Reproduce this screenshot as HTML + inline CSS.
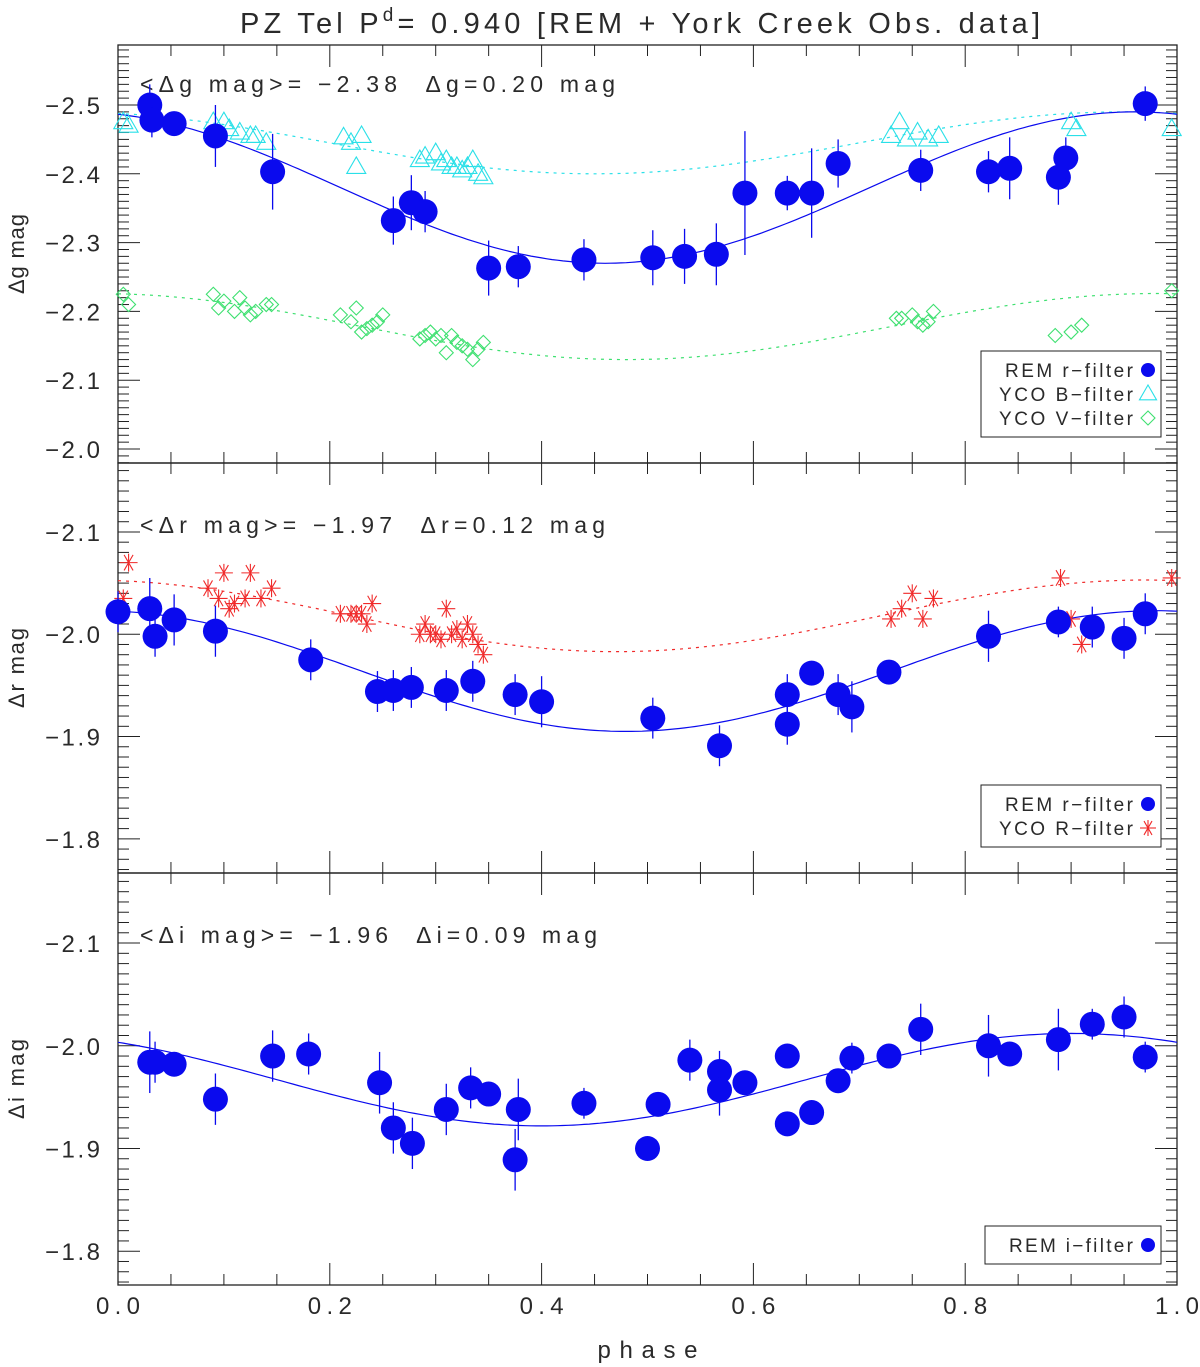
<!DOCTYPE html>
<html><head><meta charset="utf-8"><style>
body{margin:0;background:#fff}
svg{display:block}
text{font-family:"Liberation Sans",sans-serif;fill:#2a2a2a;white-space:pre}
</style></head><body>
<svg id="c" width="1200" height="1367" viewBox="0 0 1200 1367" xmlns="http://www.w3.org/2000/svg">
<text x="240" y="33" font-size="29" textLength="800" lengthAdjust="spacing">PZ Tel P<tspan dy="-12" font-size="19">d</tspan><tspan dy="12">= 0.940 [REM + York Creek Obs. data]</tspan></text>
<g id="plot"></g>
</svg>
<script>
// ---- data: panel 1 (g) ----
const gPhase=[0.03,0.032,0.053,0.092,0.146,0.26,0.277,0.29,0.35,0.378,0.44,0.505,0.535,0.565,0.592,0.632,0.655,0.68,0.758,0.822,0.842,0.888,0.895,0.97];
const gMag=[-2.50,-2.478,-2.473,-2.455,-2.403,-2.332,-2.358,-2.345,-2.263,-2.265,-2.275,-2.278,-2.280,-2.283,-2.372,-2.372,-2.372,-2.415,-2.405,-2.403,-2.408,-2.395,-2.423,-2.502];
const gErr=[0.03,0.025,0.015,0.045,0.055,0.035,0.04,0.03,0.04,0.03,0.03,0.04,0.04,0.045,0.09,0.025,0.065,0.035,0.03,0.03,0.045,0.04,0.03,0.025];
const bPhase=[0.005,0.01,0.09,0.1,0.105,0.115,0.125,0.13,0.14,0.213,0.22,0.225,0.23,0.285,0.29,0.3,0.305,0.31,0.315,0.32,0.325,0.33,0.335,0.34,0.345,0.73,0.738,0.745,0.755,0.765,0.775,0.9,0.905,0.995];
const bMag=[-2.475,-2.47,-2.475,-2.475,-2.465,-2.46,-2.455,-2.455,-2.445,-2.453,-2.445,-2.41,-2.455,-2.42,-2.425,-2.43,-2.415,-2.42,-2.41,-2.41,-2.405,-2.41,-2.42,-2.40,-2.395,-2.455,-2.475,-2.45,-2.46,-2.45,-2.455,-2.475,-2.465,-2.465];
const vPhase=[0.005,0.01,0.09,0.095,0.1,0.11,0.115,0.12,0.125,0.13,0.14,0.145,0.21,0.22,0.225,0.23,0.235,0.24,0.245,0.25,0.285,0.29,0.295,0.3,0.305,0.31,0.315,0.32,0.325,0.33,0.335,0.34,0.345,0.735,0.74,0.75,0.755,0.76,0.765,0.77,0.885,0.9,0.91,0.995];
const vMag=[-2.225,-2.21,-2.225,-2.205,-2.215,-2.2,-2.22,-2.205,-2.195,-2.2,-2.21,-2.21,-2.195,-2.185,-2.205,-2.17,-2.175,-2.18,-2.185,-2.195,-2.16,-2.165,-2.17,-2.16,-2.165,-2.14,-2.165,-2.155,-2.15,-2.145,-2.13,-2.145,-2.155,-2.19,-2.19,-2.195,-2.185,-2.18,-2.185,-2.2,-2.165,-2.17,-2.18,-2.23];
// fit params [mean, semi-amplitude, phase of brightest]
const gFit=[-2.38,0.11,0.96], bFit=[-2.445,0.045,0.95], vFit=[-2.178,0.048,0.98];
// ---- panel 2 (r) ----
const rPhase=[0,0.03,0.035,0.053,0.092,0.182,0.245,0.26,0.277,0.31,0.335,0.375,0.4,0.505,0.568,0.632,0.632,0.655,0.68,0.693,0.728,0.822,0.888,0.92,0.95,0.97];
const rMag=[-2.022,-2.025,-1.998,-2.014,-2.003,-1.975,-1.944,-1.945,-1.948,-1.945,-1.954,-1.941,-1.934,-1.918,-1.891,-1.941,-1.912,-1.962,-1.941,-1.929,-1.963,-1.998,-2.012,-2.007,-1.996,-2.02];
const rErr=[0.02,0.03,0.02,0.025,0.025,0.02,0.02,0.02,0.02,0.02,0.02,0.02,0.025,0.02,0.02,0.02,0.02,0.01,0.02,0.025,0.01,0.025,0.015,0.02,0.02,0.02];
const RPhase=[0.005,0.01,0.085,0.095,0.1,0.105,0.11,0.12,0.125,0.135,0.145,0.21,0.22,0.225,0.23,0.235,0.24,0.285,0.29,0.295,0.3,0.305,0.31,0.315,0.32,0.325,0.33,0.335,0.34,0.345,0.73,0.74,0.75,0.76,0.77,0.89,0.9,0.91,0.995];
const RMag=[-2.035,-2.07,-2.045,-2.035,-2.06,-2.025,-2.03,-2.035,-2.06,-2.035,-2.045,-2.02,-2.02,-2.02,-2.02,-2.01,-2.03,-2.0,-2.01,-2.0,-2.0,-1.995,-2.025,-2.0,-2.005,-1.995,-2.01,-2.0,-1.99,-1.98,-2.015,-2.025,-2.04,-2.015,-2.035,-2.055,-2.015,-1.99,-2.055];
const rFit=[-1.964,0.059,0.98], RFit=[-2.018,0.035,0.97];
// ---- panel 3 (i) ----
const iPhase=[0.03,0.035,0.053,0.092,0.146,0.18,0.247,0.26,0.278,0.31,0.333,0.35,0.378,0.375,0.44,0.5,0.51,0.54,0.568,0.568,0.592,0.632,0.632,0.655,0.68,0.693,0.728,0.758,0.822,0.842,0.888,0.92,0.95,0.97];
const iMag=[-1.984,-1.984,-1.982,-1.948,-1.99,-1.992,-1.964,-1.92,-1.905,-1.938,-1.959,-1.953,-1.938,-1.889,-1.944,-1.9,-1.943,-1.986,-1.975,-1.957,-1.964,-1.924,-1.99,-1.935,-1.966,-1.988,-1.99,-2.016,-2.0,-1.992,-2.006,-2.021,-2.028,-1.989];
const iErr=[0.03,0.02,0.01,0.025,0.025,0.02,0.03,0.025,0.025,0.025,0.02,0.01,0.03,0.03,0.015,0.01,0.01,0.02,0.02,0.025,0.01,0.01,0.01,0.01,0.01,0.015,0.01,0.025,0.03,0.01,0.03,0.015,0.02,0.015];
const iFit=[-1.967,0.045,0.9];
const xTicks=[0,0.2,0.4,0.6,0.8,1.0];
const xTickLabels=["0.0","0.2","0.4","0.6","0.8","1.0"];

const NS="http://www.w3.org/2000/svg";
const root=document.getElementById('plot');
function mk(tag,attrs,parent){const e=document.createElementNS(NS,tag);for(const k in attrs)e.setAttribute(k,attrs[k]);(parent||root).appendChild(e);return e;}
const X0=118,X1=1177;
const xs=p=>X0+p*(X1-X0);
const BLUE="#0a0aee",CYAN="#2ae0e8",GREEN="#3ee070",RED="#f02a2a";

const panels=[
 {top:45,bot:463,vTop:-2.5872,vBot:-1.9797,ticks:[-2.5,-2.4,-2.3,-2.2,-2.1,-2.0],lab:"Δg mag",ann:"<Δg mag>= −2.38  Δg=0.20 mag",annY:92,annL:475},
 {top:463,bot:873,vTop:-2.1674,vBot:-1.7666,ticks:[-2.1,-2.0,-1.9,-1.8],lab:"Δr mag",ann:"<Δr mag>= −1.97  Δr=0.12 mag",annY:533,annL:465},
 {top:873,bot:1285,vTop:-2.1682,vBot:-1.7671,ticks:[-2.1,-2.0,-1.9,-1.8],lab:"Δi mag",ann:"<Δi mag>= −1.96  Δi=0.09 mag",annY:943,annL:457}
];
panels.forEach((P,pi)=>{
 P.ys=v=>P.top+(v-P.vTop)/(P.vBot-P.vTop)*(P.bot-P.top);
 const g=mk('g',{});
 
 
 const fr=mk('rect',{x:X0,y:P.top,width:X1-X0,height:P.bot-P.top,fill:'none',stroke:'#222','stroke-width':1.3},g);
 
 
 for(let k=Math.ceil(P.vTop*100);k<=Math.floor(P.vBot*100);k++){
  const v=k/100,y=P.ys(v),maj=(k%10===0);const L=maj?22:11;
  mk('line',{x1:X0,y1:y,x2:X0+L,y2:y,stroke:'#222','stroke-width':1},g);
  mk('line',{x1:X1,y1:y,x2:X1-L,y2:y,stroke:'#222','stroke-width':1},g);
 }
 P.ticks.forEach(v=>{const t=mk('text',{x:45,y:P.ys(v)+9,'font-size':24,textLength:55,lengthAdjust:'spacing'},g);t.textContent=(v<0?'−':'')+Math.abs(v).toFixed(1);
  });
 for(let k=0;k<=20;k++){const x=xs(k/20),maj=(k%4===0),L=maj?22:11;
  mk('line',{x1:x,y1:P.bot,x2:x,y2:P.bot-L,stroke:'#222','stroke-width':1},g);
  mk('line',{x1:x,y1:P.top,x2:x,y2:P.top+L,stroke:'#222','stroke-width':1},g);}
 const yl=mk('text',{x:-40,y:0,'font-size':22,textLength:80,lengthAdjust:'spacing',transform:`translate(24,${(P.top+P.bot)/2}) rotate(-90)`},g);yl.textContent=P.lab;
 
 const an=mk('text',{x:140,y:P.annY,'font-size':23,textLength:P.annL,lengthAdjust:'spacing'},g);an.textContent=P.ann;
 
});
xTicks.forEach((v,i)=>{const t=mk('text',{x:xs(v)-22,y:1314,'font-size':24,textLength:44,lengthAdjust:'spacing'});t.textContent=xTickLabels[i];
 });
const xt=mk('text',{x:xs(0.5)-50,y:1358,'font-size':24,textLength:100,lengthAdjust:'spacing'});xt.textContent='phase';


function curve(P,fit,color,dash,name){
 let d='';for(let k=0;k<=200;k++){const p=k/200;const v=fit[0]-fit[1]*Math.cos(2*Math.PI*(p-fit[2]));d+=(k?'L':'M')+xs(p).toFixed(1)+','+P.ys(v).toFixed(1);}
 const e=mk('path',{d:d,fill:'none',stroke:color,'stroke-width':1.2,'stroke-dasharray':dash||'none'});
 
}
function circles(P,ph,mg,er,name){
 ph.forEach((p,i)=>{const x=xs(p),y=P.ys(mg[i]);
  const l=mk('line',{x1:x,y1:P.ys(mg[i]-er[i]),x2:x,y2:P.ys(mg[i]+er[i]),stroke:BLUE,'stroke-width':1.3});
  
  const c=mk('circle',{cx:x,cy:y,r:12.5,fill:BLUE});
  });
}
function tri(x,y,s,color){return mk('path',{d:`M${x},${y-s}L${x+s*0.95},${y+s*0.65}L${x-s*0.95},${y+s*0.65}Z`,fill:'none',stroke:color,'stroke-width':1.1});}
function dia(x,y,s,color){return mk('path',{d:`M${x},${y-s}L${x+s},${y}L${x},${y+s}L${x-s},${y}Z`,fill:'none',stroke:color,'stroke-width':1.1});}
function star(x,y,s,color){const g=mk('g',{stroke:color,'stroke-width':1.1});
 for(let a=0;a<3;a++){const t=a*Math.PI/3;mk('line',{x1:x-s*Math.cos(t),y1:y-s*Math.sin(t),x2:x+s*Math.cos(t),y2:y+s*Math.sin(t)},g);}
 mk('line',{x1:x,y1:y-s,x2:x,y2:y+s},g);return g;}

const P1=panels[0],P2=panels[1],P3=panels[2];
curve(P1,bFit,CYAN,'3,5','b-filter-fit');
curve(P1,vFit,GREEN,'3,5','v-filter-fit');
curve(P1,gFit,BLUE,null,'g-fit-curve');
bPhase.forEach((p,i)=>{const e=tri(xs(p),P1.ys(bMag[i]),10,CYAN);});
vPhase.forEach((p,i)=>{const e=dia(xs(p),P1.ys(vMag[i]),7,GREEN);});
circles(P1,gPhase,gMag,gErr,'rem-g-point');

curve(P2,RFit,RED,'3,5','R-filter-fit');
curve(P2,rFit,BLUE,null,'r-fit-curve');
RPhase.forEach((p,i)=>{const e=star(xs(p),P2.ys(RMag[i]),9,RED);});
circles(P2,rPhase,rMag,rErr,'rem-r-point');

curve(P3,iFit,BLUE,null,'i-fit-curve');
circles(P3,iPhase,iMag,iErr,'rem-i-point');

function legend(x,y,w,rows,name){
 const g=mk('g',{});
 mk('rect',{x:x,y:y,width:w,height:rows.length*24+14,fill:'#fff',stroke:'#222','stroke-width':1},g);
 rows.forEach((r,i)=>{const ty=y+26+i*24;const t=mk('text',{x:x+w-28-r[2],y:ty,'font-size':19,textLength:r[2],lengthAdjust:'spacing'},g);t.textContent=r[0];
  
  const mx=x+w-13,my=ty-7;
  if(r[1]=='c')mk('circle',{cx:mx,cy:my,r:7,fill:BLUE},g);
  if(r[1]=='t')g.appendChild(tri(mx,my,9,CYAN));
  if(r[1]=='d')g.appendChild(dia(mx,my,7,GREEN));
  if(r[1]=='s')g.appendChild(star(mx,my,8,RED));
 });
}
legend(981,351,180,[['REM r−filter','c',128],['YCO B−filter','t',134],['YCO V−filter','d',134]],'legend-top');
legend(981,785,180,[['REM r−filter','c',128],['YCO R−filter','s',134]],'legend-middle');
legend(985,1226,176,[['REM i−filter','c',124]],'legend-bottom');
</script>
</body></html>
